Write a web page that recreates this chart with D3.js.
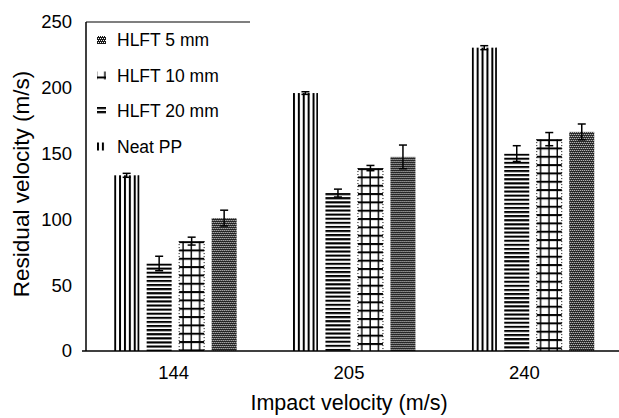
<!DOCTYPE html>
<html><head><meta charset="utf-8">
<script src="https://cdn.jsdelivr.net/npm/d3@7"></script>
<style>
html,body{margin:0;padding:0;background:#fff;}
svg{display:block;font-family:"Liberation Sans",Arial,sans-serif;}
</style></head>
<body><svg id="c" width="619" height="418"></svg>
<script>
const categories = ["144", "205", "240"];
const seriesNames = ["Neat PP", "HLFT 20 mm", "HLFT 10 mm", "HLFT 5 mm"];
const neatPP   = [133.5, 196, 230.5];
const hlft20   = [66.5, 120, 150];
const hlft10   = [83.5, 139, 161];
const hlft5    = [101, 147.5, 166.5];
const errNeat  = [1.5, 1, 1.5];
const err20    = [5.5, 3, 6];
const err10    = [3, 2, 5];
const err5     = [6, 9, 6];
const yTicks   = [0, 50, 100, 150, 200, 250];
const legendOrder = ["HLFT 5 mm", "HLFT 10 mm", "HLFT 20 mm", "Neat PP"];

(function(){
const values = {"Neat PP": neatPP, "HLFT 20 mm": hlft20, "HLFT 10 mm": hlft10, "HLFT 5 mm": hlft5};
const errs = {"Neat PP": errNeat, "HLFT 20 mm": err20, "HLFT 10 mm": err10, "HLFT 5 mm": err5};
const patKey = {"Neat PP": "vert", "HLFT 20 mm": "horiz", "HLFT 10 mm": "grid", "HLFT 5 mm": "dots"};

const svg = d3.select("#c");
const plotLeft = 86, plotBottom = 351, plotTop = 22;
const y = d3.scaleLinear().domain([0, 250]).range([plotBottom, plotTop]);
const xLab = d3.scaleBand().domain(categories).range([plotLeft, 612]);
const xGrp = d3.scaleBand().domain(categories).range([plotLeft, 622.4]);
const xIn = d3.scaleBand().domain(seriesNames).range([0, 122.5]).paddingInner(0.2308);

const defs = svg.append("defs");
function makePattern(id, kind, ox, oy) {
  if (kind === "vert") {
    const p = defs.append("pattern").attr("id", id).attr("patternUnits", "userSpaceOnUse")
      .attr("x", ox).attr("y", 0).attr("width", 4.9).attr("height", 10);
    p.append("rect").attr("width", 4.9).attr("height", 10).attr("fill", "#fff");
    p.append("rect").attr("x", 0).attr("width", 2).attr("height", 10).attr("fill", "#000");
  } else if (kind === "horiz") {
    const p = defs.append("pattern").attr("id", id).attr("patternUnits", "userSpaceOnUse")
      .attr("x", 0).attr("y", oy).attr("width", 10).attr("height", 4.1);
    p.append("rect").attr("width", 10).attr("height", 4.1).attr("fill", "#fff");
    p.append("rect").attr("y", 0).attr("width", 10).attr("height", 2.1).attr("fill", "#000");
  } else if (kind === "grid") {
    const s = 8.33;
    const p = defs.append("pattern").attr("id", id).attr("patternUnits", "userSpaceOnUse")
      .attr("x", ox).attr("y", oy).attr("width", s).attr("height", s);
    p.append("rect").attr("width", s).attr("height", s).attr("fill", "#fff");
    p.append("rect").attr("x", 3.2).attr("width", 1.4).attr("height", s).attr("fill", "#000");
    p.append("rect").attr("y", 0).attr("width", s).attr("height", 2).attr("fill", "#000");
  } else {
    const p = defs.append("pattern").attr("id", id).attr("patternUnits", "userSpaceOnUse")
      .attr("x", ox).attr("y", oy).attr("width", 2).attr("height", 4);
    p.append("rect").attr("width", 2).attr("height", 4).attr("fill", "#1a1a1a");
    p.append("rect").attr("x", 0).attr("y", 0).attr("width", 1).attr("height", 1).attr("fill", "#fff");
    p.append("rect").attr("x", 1).attr("y", 2).attr("width", 1).attr("height", 1).attr("fill", "#fff");
  }
}

const g = svg.append("g");
categories.forEach((c, i) => {
  const gx = xGrp(c) + xGrp.bandwidth() / 2 - 61.25;
  seriesNames.forEach((s, j) => {
    const v = values[s][i];
    const bx = gx + xIn(s);
    const bw = xIn.bandwidth();
    const id = "p" + i + "_" + j;
    makePattern(id, patKey[s], bx, y(v));
    g.append("rect").attr("x", bx).attr("y", y(v)).attr("width", bw)
      .attr("height", y(0) - y(v)).attr("fill", `url(#${id})`);
    if (patKey[s] === "vert") {
      g.append("rect").attr("x", bx + bw - 1.6).attr("y", y(v)).attr("width", 1.6)
        .attr("height", y(0) - y(v)).attr("fill", "#000");
    }
    if (patKey[s] === "grid") {
      [bx, bx + bw].forEach(xx => g.append("line").attr("x1", xx).attr("x2", xx)
        .attr("y1", y(v)).attr("y2", y(0)).attr("stroke", "#000").attr("stroke-width", 1)
        .attr("stroke-dasharray", "1,2"));
    }
    const e = errs[s][i];
    const cx = bx + bw / 2;
    g.append("line").attr("x1", cx).attr("x2", cx).attr("y1", y(v + e)).attr("y2", y(v - e))
      .attr("stroke", "#000").attr("stroke-width", 1.5);
    [v + e, v - e].forEach(val => g.append("line").attr("x1", cx - 4).attr("x2", cx + 4)
      .attr("y1", y(val)).attr("y2", y(val)).attr("stroke", "#000").attr("stroke-width", 1.5));
  });
});

const yAxis = svg.append("g").attr("transform", `translate(${plotLeft},0)`)
  .call(d3.axisLeft(y).tickValues(yTicks).tickSize(0).tickPadding(14));
yAxis.select(".domain").remove();
yAxis.selectAll("text").attr("font-size", 18.5).attr("fill", "#000")
  .attr("font-family", "Liberation Sans, Arial, sans-serif");
svg.append("line").attr("x1", plotLeft).attr("x2", plotLeft).attr("y1", plotTop).attr("y2", plotBottom)
  .attr("stroke", "#000").attr("stroke-width", 1.5);

const xAxis = svg.append("g").attr("transform", `translate(0,${plotBottom})`)
  .call(d3.axisBottom(xLab).tickSize(0).tickPadding(15));
xAxis.select(".domain").remove();
xAxis.selectAll("text").attr("font-size", 18.5).attr("fill", "#000")
  .attr("font-family", "Liberation Sans, Arial, sans-serif");
svg.append("line").attr("x1", plotLeft - 4).attr("x2", 619).attr("y1", plotBottom).attr("y2", plotBottom)
  .attr("stroke", "#000").attr("stroke-width", 1.5);

svg.append("line").attr("x1", plotLeft).attr("x2", 250).attr("y1", plotTop).attr("y2", plotTop)
  .attr("stroke", "#000").attr("stroke-width", 1.2);

svg.append("text").attr("transform", "translate(29,184) rotate(-90)")
  .attr("text-anchor", "middle").attr("font-size", 22.5).text("Residual velocity (m/s)");
svg.append("text").attr("x", 349).attr("y", 410)
  .attr("text-anchor", "middle").attr("font-size", 21.5).text("Impact velocity (m/s)");

const legY = d3.scalePoint().domain(legendOrder).range([40, 146.5]);
legendOrder.forEach(s => {
  const cy = legY(s);
  const id = "leg" + patKey[s];
  const k = patKey[s];
  makePattern(id, k, k === "grid" ? 101 : 97, k === "grid" ? cy + 1 : cy - 4);
  svg.append("rect").attr("x", 97).attr("y", cy - 4).attr("width", 9).attr("height", 8)
    .attr("fill", `url(#${id})`);
  svg.append("text").attr("x", 117).attr("y", cy + 6).attr("font-size", 17.5).text(s);
});
})();
</script></body></html>
